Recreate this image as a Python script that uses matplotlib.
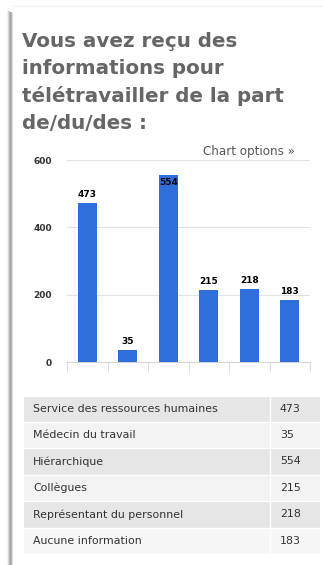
import numpy as np
import matplotlib.pyplot as plt
from matplotlib.patches import Rectangle

# Données
categories = ["Service des ressources humaines", "Médecin du travail", "Hiérarchique",
              "Collègues", "Représentant du personnel", "Aucune information"]
valeurs = [473, 35, 554, 215, 218, 183]
yticks = [0, 200, 400, 600]
titre = ["Vous avez reçu des", "informations pour", "télétravailler de la part", "de/du/des :"]

W, H = 323, 565
fig = plt.figure(figsize=(W / 100, H / 100), dpi=100)
fig.patch.set_facecolor("white")

# fond en pixels (carte, titre, tableau)
bg = fig.add_axes([0, 0, 1, 1], zorder=0)
bg.set_xlim(0, W)
bg.set_ylim(H, 0)
bg.axis("off")

# ombre de la carte a gauche
for i, c in enumerate(["#f2f2f2", "#d8d8d8", "#b8b8b8", "#a6a6a6", "#b5b5b5", "#dcdcdc"]):
    bg.add_patch(Rectangle((7 + i, 10 + i * 0.5), 1, H, color=c, lw=0))
bg.plot([13, W], [6, 6], color="#f0f0f0", lw=1)

for k, ligne in enumerate(titre):
    bg.text(22, 47 + k * 27.3, ligne, fontsize=14.3, fontweight="bold", color="#666666",
            va="baseline", ha="left")

bg.text(295, 151, "Chart options »", fontsize=8.6, color="#555555", ha="right", va="center")

# tableau
y0, rh = 395.5, 26.4
for i, (cat, v) in enumerate(zip(categories, valeurs)):
    col = "#e6e6e6" if i % 2 == 0 else ("#f3f3f3" if i < 5 else "#f7f7f7")
    bg.add_patch(Rectangle((24, y0 + i * rh), 296, rh, color=col, lw=0))
    bg.plot([24, 320], [y0 + i * rh, y0 + i * rh], color="white", lw=1)
    yc = y0 + (i + 0.5) * rh
    bg.text(33, yc, cat, fontsize=7.9, color="#333333", va="center", ha="left")
    bg.text(280, yc, str(v), fontsize=7.9, color="#333333", va="center", ha="left")
bg.plot([270, 270], [y0, y0 + 6 * rh], color="white", lw=1)

# graphique
ax = fig.add_axes([67 / W, 1 - 362 / H, 243 / W, 202 / H], zorder=1)
ax.patch.set_alpha(0)
x = np.arange(len(valeurs))
ax.bar(x, valeurs, width=0.47, color="#2f6fdc", zorder=3)
ax.set_xlim(-0.5, len(valeurs) - 0.5)
ax.set_ylim(0, 600)
ax.set_yticks(yticks)
ax.set_yticklabels([str(t) for t in yticks], fontsize=6.5, fontweight="bold", color="#333333")
ax.tick_params(axis="y", length=0, pad=11)
ax.set_xticks([])
ax.set_xticks(np.arange(len(valeurs) + 1) - 0.5, minor=True)
ax.tick_params(axis="x", which="minor", length=7, color="#dddddd", width=0.8)
ax.grid(axis="y", color="#e2e2e2", lw=0.8, zorder=0)
for s in ["top", "right", "left"]:
    ax.spines[s].set_visible(False)
ax.spines["bottom"].set_color("#d5d5d5")

for xi, v in zip(x, valeurs):
    if v > 520:
        # pas de place au-dessus : etiquette dans la barre
        ax.text(xi, v - 6, str(v), ha="center", va="top", fontsize=6.5, fontweight="bold",
                color="black", zorder=4)
    else:
        ax.text(xi, v + 12, str(v), ha="center", va="bottom", fontsize=6.5, fontweight="bold",
                color="black", zorder=4)

fig.savefig("out.png", dpi=100)
